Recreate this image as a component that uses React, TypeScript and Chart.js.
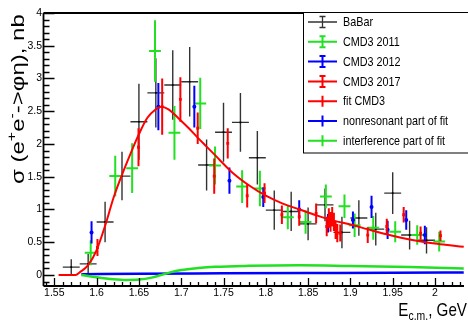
import { useEffect, useRef } from 'react';
import { Chart, registerables } from 'chart.js';

Chart.register(...registerables);

// ---------------- data ----------------
const babarE = [1.57, 1.59, 1.61, 1.63, 1.65, 1.67, 1.69, 1.71, 1.73, 1.75, 1.77, 1.79, 1.81, 1.83, 1.85, 1.87, 1.89, 1.91, 1.93, 1.95, 1.97, 1.99];
const babarSigma = [0.12, 0.17, 0.81, 1.51, 2.34, 2.78, 2.9, 2.95, 1.68, 2.18, 2.33, 1.79, 0.99, 0.97, 0.78, 1.07, 0.65, 0.87, 0.7, 1.25, 0.61, 0.53];
const babarErr = [0.12, 0.15, 0.31, 0.37, 0.58, 0.53, 0.53, 0.53, 0.39, 0.45, 0.45, 0.41, 0.3, 0.3, 0.25, 0.25, 0.24, 0.27, 0.25, 0.32, 0.22, 0.2];
const babarBinHalf = 0.01;

const cmd2011E = [1.593, 1.622, 1.642, 1.669, 1.692, 1.7225, 1.74, 1.772, 1.793, 1.826, 1.847, 1.871, 1.893, 1.905, 1.927, 1.953, 1.979, 2.005];
const cmd2011Sigma = [0.34, 1.51, 1.63, 3.42, 2.17, 2.62, 1.67, 1.35, 1.32, 0.88, 0.81, 1.2, 1.05, 0.76, 0.72, 0.66, 0.61, 0.51];
const cmd2011Err = [0.19, 0.31, 0.38, 0.47, 0.41, 0.39, 0.29, 0.25, 0.27, 0.18, 0.18, 0.18, 0.18, 0.18, 0.18, 0.16, 0.15, 0.15];
const cmd2011BinHalf = 0.007;

const cmd2012E = [1.594, 1.673, 1.7155, 1.757, 1.797, 1.8395, 1.8735, 1.903, 1.925, 1.944, 1.966, 1.988];
const cmd2012Sigma = [0.65, 2.57, 2.57, 1.44, 1.19, 1.0, 0.79, 0.84, 1.04, 0.69, 0.84, 0.61];
const cmd2012Err = [0.17, 0.36, 0.32, 0.2, 0.15, 0.14, 0.14, 0.13, 0.17, 0.14, 0.15, 0.14];

const cmd2017E = [1.601, 1.6495, 1.6775, 1.699, 1.7195, 1.739, 1.755, 1.778, 1.7985, 1.819, 1.8395, 1.8595, 1.872, 1.8745, 1.8765, 1.8785, 1.8805, 1.8825, 1.8845, 1.888, 1.9205, 1.943, 1.963, 1.983, 2.0065];
const cmd2017Sigma = [0.42, 1.95, 2.57, 2.68, 2.24, 1.51, 2.01, 1.21, 1.25, 0.92, 0.89, 0.94, 0.74, 0.87, 0.81, 0.89, 0.81, 0.69, 0.64, 0.64, 0.61, 0.74, 0.92, 0.64, 0.6];
const cmd2017Err = [0.13, 0.29, 0.43, 0.34, 0.24, 0.27, 0.23, 0.18, 0.15, 0.14, 0.14, 0.15, 0.15, 0.15, 0.15, 0.15, 0.14, 0.14, 0.14, 0.13, 0.12, 0.12, 0.12, 0.1, 0.08];

const fitE = [1.555, 1.5753, 1.58, 1.59, 1.6, 1.61, 1.62, 1.63, 1.64, 1.65, 1.66, 1.67, 1.676, 1.685, 1.697, 1.709, 1.72, 1.73, 1.74, 1.76, 1.78, 1.8, 1.82, 1.84, 1.86, 1.88, 1.9, 1.92, 1.94, 1.96, 1.98, 2.0, 2.02, 2.034];
const fitSigma = [0, 0, 0.04, 0.15, 0.38, 0.75, 1.18, 1.53, 1.85, 2.15, 2.4, 2.53, 2.57, 2.53, 2.39, 2.24, 2.09, 1.96, 1.83, 1.57, 1.37, 1.21, 1.09, 1.0, 0.91, 0.83, 0.77, 0.7, 0.63, 0.57, 0.52, 0.48, 0.45, 0.43];

const nonresE = [1.582, 1.65, 1.75, 1.85, 1.95, 2.034];
const nonresSigma = [0.01, 0.02, 0.025, 0.03, 0.035, 0.037];

const interfE = [1.582, 1.6, 1.62, 1.635, 1.65, 1.665, 1.675, 1.687, 1.7, 1.72, 1.74, 1.78, 1.84, 1.9, 1.97, 2.034];
const interfSigma = [0, -0.035, -0.065, -0.076, -0.07, -0.04, -0.005, 0.04, 0.075, 0.105, 0.125, 0.14, 0.148, 0.137, 0.122, 0.1];

const xTickValues = [1.55, 1.6, 1.65, 1.7, 1.75, 1.8, 1.85, 1.9, 1.95, 2.0];
const yTickValues = [0, 0.5, 1, 1.5, 2, 2.5, 3, 3.5, 4];

const legendLabels = ['BaBar', 'CMD3 2011', 'CMD3 2012', 'CMD3 2017', 'fit CMD3', 'nonresonant part of fit', 'interference part of fit'];

// ---------------- styles ----------------
const FONT = "'Liberation Sans', Arial, Helvetica, sans-serif";
const TICK_FONT = "'Liberation Sans Narrow', 'Liberation Sans', Arial, sans-serif";
const C_BLACK = '#333333';
const C_GREEN = '#22e022';
const C_BLUE = '#0000ff';
const C_RED = '#ff0000';

const X_MIN = 1.5372;
const X_MAX = 2.0343;
const Y_MIN = -0.168;
const Y_MAX = 4;

const fmt = (v: number) => String(Math.round(v * 100) / 100);

type Seg = { t: string; s: number; dy: number };
function drawRich(ctx: CanvasRenderingContext2D, segs: Seg[], x0: number) {
  let x = x0;
  for (const sg of segs) {
    ctx.font = `${sg.s}px ${FONT}`;
    ctx.fillText(sg.t, x, sg.dy);
    x += ctx.measureText(sg.t).width;
  }
  return x - x0;
}
function richWidth(ctx: CanvasRenderingContext2D, segs: Seg[]) {
  let w = 0;
  for (const sg of segs) {
    ctx.font = `${sg.s}px ${FONT}`;
    w += ctx.measureText(sg.t).width;
  }
  return w;
}

const errorBarPlugin = {
  id: 'errorBars',
  beforeDatasetDraw(chart: any, args: any) {
    const ds = chart.data.datasets[args.index];
    if (!ds.yErr) return;
    const { ctx, chartArea, scales } = chart;
    const xs = scales.x;
    const ys = scales.y;
    ctx.save();
    ctx.beginPath();
    ctx.rect(chartArea.left, chartArea.top, chartArea.right - chartArea.left, chartArea.bottom - chartArea.top);
    ctx.clip();
    ctx.strokeStyle = ds.barColor;
    ctx.lineWidth = ds.barWidth;
    ctx.beginPath();
    ds.data.forEach((p: any, i: number) => {
      const px = xs.getPixelForValue(p.x);
      const py = ys.getPixelForValue(p.y);
      const e = ds.yErr[i];
      ctx.moveTo(px, ys.getPixelForValue(p.y - e));
      ctx.lineTo(px, ys.getPixelForValue(p.y + e));
      if (ds.xErr) {
        ctx.moveTo(xs.getPixelForValue(p.x - ds.xErr), py);
        ctx.lineTo(xs.getPixelForValue(p.x + ds.xErr), py);
      }
    });
    ctx.stroke();
    ctx.restore();
  },
};

const framePlugin = {
  id: 'rootFrame',
  afterDatasetsDraw(chart: any) {
    const { ctx, chartArea: a, scales } = chart;
    const xs = scales.x;
    const ys = scales.y;
    ctx.save();
    ctx.strokeStyle = '#000';
    ctx.lineWidth = 1.8;
    ctx.beginPath();
    ctx.moveTo(a.left, a.top);
    ctx.lineTo(a.right, a.top);
    ctx.moveTo(a.left, a.top);
    ctx.lineTo(a.left, a.bottom);
    ctx.moveTo(a.left, a.bottom);
    ctx.lineTo(a.right, a.bottom);
    ctx.stroke();
    ctx.lineWidth = 1.3;
    ctx.beginPath();
    // y ticks (inward)
    for (let k = -1; k <= 40; k++) {
      const v = k / 10;
      if (v < Y_MIN || v > Y_MAX) continue;
      const py = Math.round(ys.getPixelForValue(v)) + 0.5;
      const len = k % 5 === 0 ? 11 : 6;
      ctx.moveTo(a.left, py);
      ctx.lineTo(a.left + len, py);
    }
    // x ticks (inward)
    for (let k = 154; k <= 203; k++) {
      const v = k / 100;
      if (v < X_MIN || v > X_MAX) continue;
      const px = Math.round(xs.getPixelForValue(v)) + 0.5;
      const len = k % 5 === 0 ? 8 : 4;
      ctx.moveTo(px, a.bottom);
      ctx.lineTo(px, a.bottom - len);
    }
    ctx.stroke();
    ctx.restore();
  },
  afterDraw(chart: any) {
    const { ctx } = chart;
    ctx.save();
    ctx.fillStyle = '#000';
    ctx.textBaseline = 'alphabetic';
    ctx.textAlign = 'left';
    // y-axis title
    ctx.save();
    ctx.translate(24, 184);
    ctx.rotate(-Math.PI / 2);
    ctx.scale(1, 0.8);
    drawRich(ctx, [
      { t: 'σ (e', s: 24, dy: 0 },
      { t: '+', s: 16, dy: -10 },
      { t: 'e', s: 24, dy: 0 },
      { t: '-', s: 16, dy: -10 },
      { t: '->φη), nb', s: 24, dy: 0 },
    ], 0);
    ctx.restore();
    // x-axis title
    const xt: Seg[] = [
      { t: 'E', s: 19, dy: 0 },
      { t: 'c.m.', s: 13, dy: 4 },
      { t: ', GeV', s: 19, dy: 0 },
    ];
    const w = richWidth(ctx, xt) * 0.8;
    ctx.save();
    ctx.translate(467 - w, 316);
    ctx.scale(0.8, 1);
    drawRich(ctx, xt, 0);
    ctx.restore();

    // legend
    const bx = 303, by = 12.5, bw = 170, bh = 140.5;
    ctx.fillStyle = '#fff';
    ctx.fillRect(bx, by, bw, bh);
    ctx.strokeStyle = '#000';
    ctx.lineWidth = 1;
    ctx.strokeRect(bx + 0.5, by, bw, bh);
    const cols = [C_BLACK, C_GREEN, C_BLUE, C_RED, C_RED, C_BLUE, C_GREEN];
    const widths = [1.3, 2, 2, 2, 2, 2, 2];
    legendLabels.forEach((lab, i) => {
      const cy = 22 + i * 19.8;
      const cx = 322.5;
      ctx.strokeStyle = cols[i];
      ctx.lineWidth = widths[i];
      ctx.beginPath();
      ctx.moveTo(308, cy);
      ctx.lineTo(337, cy);
      ctx.moveTo(cx, cy - 5.5);
      ctx.lineTo(cx, cy + 5.5);
      if (i < 4) {
        ctx.moveTo(cx - 3, cy - 5.5);
        ctx.lineTo(cx + 3, cy - 5.5);
        ctx.moveTo(cx - 3, cy + 5.5);
        ctx.lineTo(cx + 3, cy + 5.5);
      }
      ctx.stroke();
      ctx.save();
      ctx.fillStyle = '#000';
      ctx.textBaseline = 'middle';
      ctx.translate(343, cy);
      ctx.scale(0.8, 1);
      ctx.font = `13.5px ${FONT}`;
      ctx.fillText(lab, 0, 0.5);
      ctx.restore();
    });
    ctx.restore();
  },
};

const pts = (xs: number[], ys: number[]) => xs.map((x, i) => ({ x, y: ys[i] }));

export default function App() {
  const ref = useRef<HTMLCanvasElement | null>(null);
  useEffect(() => {
    if (!ref.current) return;
    const chart = new Chart(ref.current, {
      type: 'scatter',
      data: {
        datasets: [
          {
            label: 'BaBar', data: pts(babarE, babarSigma), order: 7,
            pointStyle: 'rect', pointRadius: 1.2, backgroundColor: '#000', borderColor: '#000', borderWidth: 0,
            yErr: babarErr, xErr: babarBinHalf, barColor: C_BLACK, barWidth: 1.4,
          } as any,
          {
            label: 'CMD3 2011', data: pts(cmd2011E, cmd2011Sigma), order: 6,
            pointStyle: 'rect', pointRadius: 1, backgroundColor: C_GREEN, borderColor: C_GREEN, borderWidth: 0,
            yErr: cmd2011Err, xErr: cmd2011BinHalf, barColor: C_GREEN, barWidth: 2,
          } as any,
          {
            label: 'CMD3 2012', data: pts(cmd2012E, cmd2012Sigma), order: 5,
            pointStyle: 'circle', pointRadius: 2, backgroundColor: C_BLUE, borderColor: C_BLUE, borderWidth: 0,
            yErr: cmd2012Err, xErr: 0.0015, barColor: C_BLUE, barWidth: 2,
          } as any,
          {
            label: 'CMD3 2017', data: pts(cmd2017E, cmd2017Sigma), order: 4,
            pointStyle: 'rect', pointRadius: 2, backgroundColor: C_RED, borderColor: C_RED, borderWidth: 0,
            yErr: cmd2017Err, barColor: C_RED, barWidth: 2,
          } as any,
          {
            label: 'nonresonant part of fit', data: pts(nonresE, nonresSigma), order: 3,
            showLine: true, borderColor: C_BLUE, borderWidth: 2.5, pointRadius: 0, cubicInterpolationMode: 'monotone',
          } as any,
          {
            label: 'interference part of fit', data: pts(interfE, interfSigma), order: 2,
            showLine: true, borderColor: C_GREEN, borderWidth: 2.5, pointRadius: 0, cubicInterpolationMode: 'monotone',
          } as any,
          {
            label: 'fit CMD3', data: pts(fitE, fitSigma), order: 1,
            showLine: true, borderColor: C_RED, borderWidth: 2, pointRadius: 0, cubicInterpolationMode: 'monotone',
          } as any,
        ],
      },
      options: {
        responsive: false,
        animation: false,
        devicePixelRatio: 1,
        layout: { padding: { top: 13, left: 0, right: 0, bottom: 0 } },
        plugins: { legend: { display: false }, tooltip: { enabled: false } },
        scales: {
          x: {
            type: 'linear', min: X_MIN, max: X_MAX,
            afterBuildTicks: (s: any) => { s.ticks = xTickValues.map((v) => ({ value: v })); },
            afterFit: (s: any) => { s.height = 34; },
            grid: { display: false, drawTicks: false },
            border: { display: false },
            ticks: { color: '#000', padding: 1, maxRotation: 0, autoSkip: false, font: { family: TICK_FONT, size: 10.5 }, callback: (v: any) => fmt(Number(v)) },
          },
          y: {
            type: 'linear', min: Y_MIN, max: Y_MAX,
            afterBuildTicks: (s: any) => { s.ticks = yTickValues.map((v) => ({ value: v })); },
            afterFit: (s: any) => { s.width = 43.5; },
            grid: { display: false, drawTicks: false },
            border: { display: false },
            ticks: { color: '#000', padding: 1.5, autoSkip: false, font: { family: TICK_FONT, size: 10.5 }, callback: (v: any) => fmt(Number(v)) },
          },
        },
      } as any,
      plugins: [errorBarPlugin, framePlugin],
    });
    return () => chart.destroy();
  }, []);
  return (
    <div style={{ position: 'fixed', left: 0, top: 0, width: 468, height: 320, background: '#fff' }}>
      <canvas ref={ref} width={468} height={320} />
    </div>
  );
}
